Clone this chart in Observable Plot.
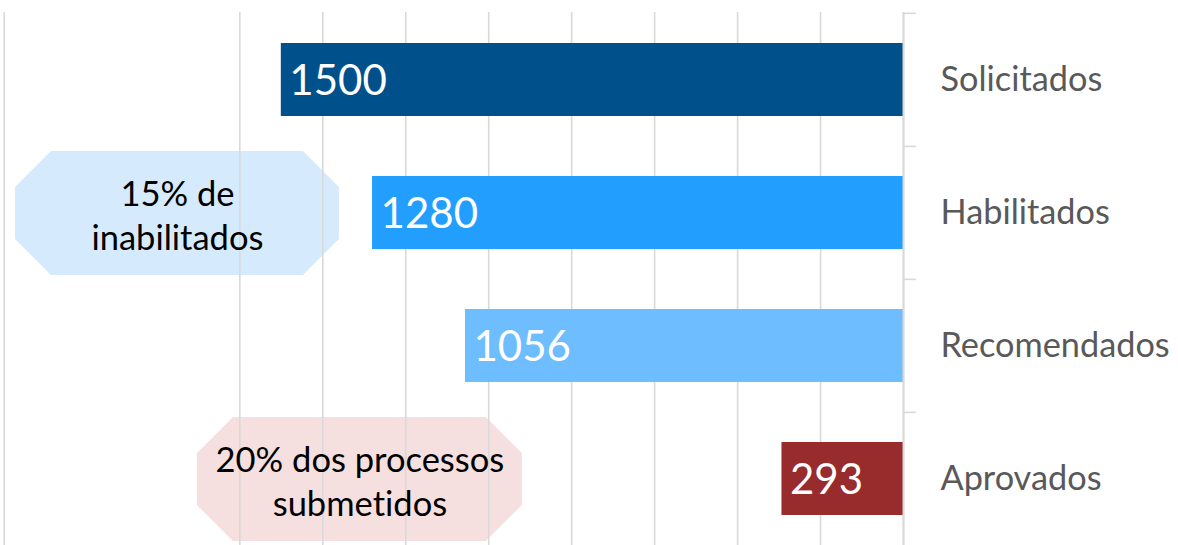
<!DOCTYPE html>
<html><head><meta charset="utf-8">
<script src="https://cdn.jsdelivr.net/npm/d3@7"></script>
<script src="https://cdn.jsdelivr.net/npm/@observablehq/plot@0.6"></script>
<style>html,body{margin:0;padding:0;background:#fff;overflow:hidden} #chart svg{display:block;font-variant-ligatures:none} #chart text{font-variant-ligatures:none}</style>
</head><body><div id="chart"></div>
<script>
const categories = ["Solicitados", "Habilitados", "Recomendados", "Aprovados"];
const values = [1500, 1280, 1056, 293];
const barColors = ["#00508c", "#229eff", "#6dbdff", "#982b2b"];
const gridValues = [0, 200, 400, 600, 800, 1000, 1200, 1400, 1600, 2168];
const calloutCategories = ["Habilitados", "Aprovados"];
const calloutTexts = ["15% de\ninabilitados", "20% dos processos\nsubmetidos"];
const calloutFrom = [2141, 1702];
const calloutTo = [1360, 919];
const calloutColors = ["#d5eafc", "#f6dfdf"];

const bars = categories.map((c, i) => ({cat: c, value: values[i], color: barColors[i]}));
const callouts = calloutCategories.map((c, i) => ({cat: c, text: calloutTexts[i], x1: calloutFrom[i], x2: calloutTo[i], color: calloutColors[i]}));

const FONT = "Lato, 'Open Sans', sans-serif";
const bandH = (545 - 12) / categories.length;

const chart = Plot.plot({
  width: 1178,
  height: 545,
  marginTop: 12,
  marginBottom: 0,
  marginLeft: 0,
  marginRight: 275,
  style: {fontFamily: FONT, background: "#fff"},
  x: {domain: [2177, 0], axis: null},
  y: {domain: categories, padding: 0, axis: null},
  color: {type: "identity"},
  marks: [
    Plot.barX(callouts, {x1: "x1", x2: "x2", y: "cat", fill: "color", insetTop: 5, insetBottom: 4, className: "callout"}),
    Plot.ruleX(gridValues, {x: d => d, stroke: "#d9d9d9", strokeWidth: 1.6}),
    Plot.barX(bars, {x1: 0, x2: "value", y: "cat", fill: "color", insetTop: 30, insetBottom: 30}),
    Plot.text(bars, {x: "value", y: "cat", text: d => String(d.value), fill: "#fff", textAnchor: "start", dx: 8, dy: 2, fontSize: 42}),
    Plot.text(callouts, {x: d => (d.x1 + d.x2) / 2, y: "cat", text: "text", fill: "#000", fontSize: 34.5, lineHeight: 1.28, dy: 1}),
    Plot.ruleY(categories, {y: d => d, dy: -bandH / 2, x1: 0, x2: -31, stroke: "#d9d9d9", strokeWidth: 1.6}),
    Plot.ruleX([0], {stroke: "#d9d9d9", strokeWidth: 2}),
    Plot.axisY({anchor: "right", label: null, tickSize: 0, tickPadding: 37, fontSize: 34.3, color: "#595959", fill: "#595959"})
  ]
});

// cut the corners of the callout boxes into octagons
chart.querySelectorAll("g.callout rect").forEach(r => {
  const x = +r.getAttribute("x"), y = +r.getAttribute("y");
  const w = +r.getAttribute("width"), h = +r.getAttribute("height");
  const c = 36;
  const p = document.createElementNS("http://www.w3.org/2000/svg", "polygon");
  p.setAttribute("points", [
    [x + c, y], [x + w - c, y], [x + w, y + c], [x + w, y + h - c],
    [x + w - c, y + h], [x + c, y + h], [x, y + h - c], [x, y + c]
  ].map(d => d.join(",")).join(" "));
  p.setAttribute("fill", r.getAttribute("fill"));
  r.replaceWith(p);
});

document.getElementById("chart").appendChild(chart);
</script>
</body></html>
